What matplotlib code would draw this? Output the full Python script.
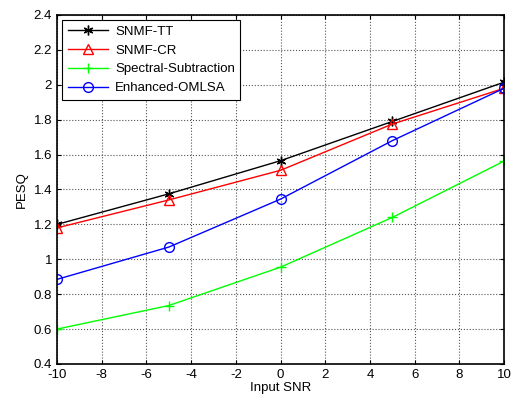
import numpy as np
import matplotlib.pyplot as plt

plt.rcParams['font.family'] = ['Liberation Sans', 'DejaVu Sans']
plt.rcParams['font.size'] = 9.5
plt.rcParams['axes.unicode_minus'] = False

snr = [-10, -5, 0, 5, 10]
snmf_tt = [1.20, 1.375, 1.565, 1.79, 2.015]
snmf_cr = [1.18, 1.34, 1.51, 1.775, 1.98]
spectral = [0.60, 0.735, 0.955, 1.24, 1.563]
omlsa = [0.885, 1.07, 1.345, 1.68, 1.98]

fig = plt.figure(figsize=(5.16, 4.03), dpi=100)
ax = fig.add_axes([0.1105, 0.0968, 0.8665, 0.866])

ax.plot(snr, snmf_tt, color='black', marker=(6, 2, 0), markersize=7, mew=1, lw=1, label='SNMF-TT')
ax.plot(snr, snmf_cr, color='red', marker='^', markersize=7, mfc='none', lw=1, label='SNMF-CR')
ax.plot(snr, spectral, color='#00ff00', marker='+', markersize=7, lw=1, label='Spectral-Subtraction')
ax.plot(snr, omlsa, color='blue', marker='o', markersize=7, mfc='none', lw=1, label='Enhanced-OMLSA')

ax.set_xlim(-10, 10)
ax.set_ylim(0.4, 2.4)
ax.set_xticks(np.arange(-10, 11, 2))
ax.set_yticks(np.arange(0.4, 2.41, 0.2))
ax.set_yticklabels(['0.4', '0.6', '0.8', '1', '1.2', '1.4', '1.6', '1.8', '2', '2.2', '2.4'])
ax.grid(True, linestyle=':', color='#555555', lw=0.8)
ax.tick_params(direction='in', top=True, right=True, length=3)
for s in ax.spines.values():
    s.set_linewidth(1.2)

ax.set_xlabel('Input SNR', labelpad=1)
ax.set_ylabel('PESQ', labelpad=4)

leg = ax.legend(loc='upper left', fancybox=False, edgecolor='black', framealpha=1,
                borderaxespad=0.4, handlelength=3.1, labelspacing=0.5, handletextpad=0.5)
leg.get_frame().set_linewidth(0.8)

fig.savefig('out.png', dpi=100)
